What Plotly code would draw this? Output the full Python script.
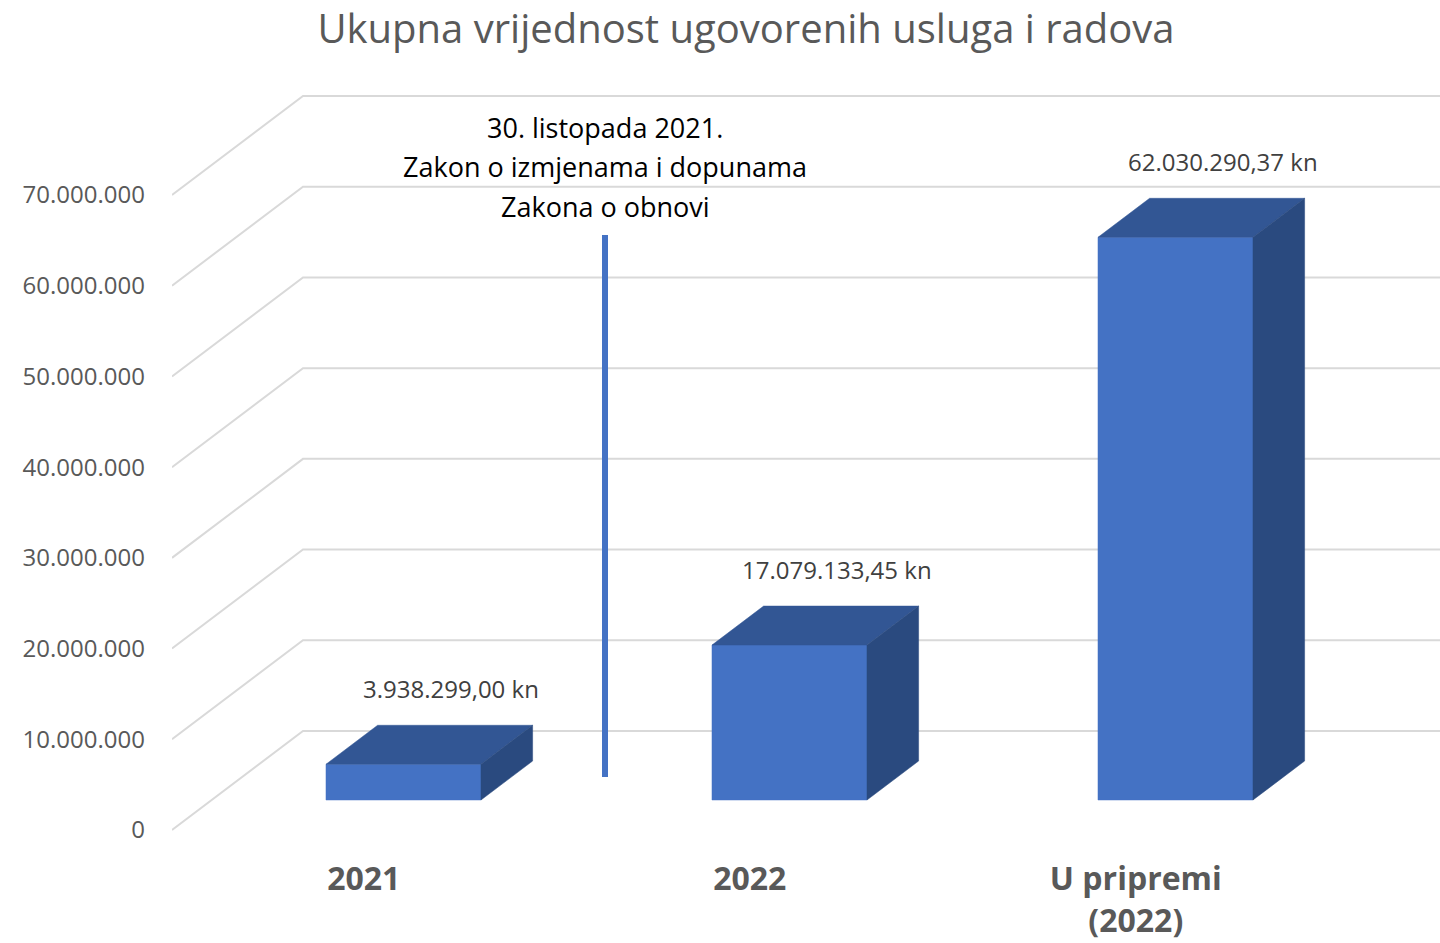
import plotly.graph_objects as go

# ---- data ----
categories = ["2021", "2022", "U pripremi<br>(2022)"]
values = [3938299.00, 17079133.45, 62030290.37]
value_labels = ["3.938.299,00 kn", "17.079.133,45 kn", "62.030.290,37 kn"]
tick_values = [0, 10e6, 20e6, 30e6, 40e6, 50e6, 60e6, 70e6]
tick_labels = ["0", "10.000.000", "20.000.000", "30.000.000", "40.000.000",
               "50.000.000", "60.000.000", "70.000.000"]
note_lines = ["30. listopada 2021.", "Zakon o izmjenama i dopunama", "Zakona o obnovi"]
title_text = "Ukupna vrijednost ugovorenih usluga i radova"

# ---- geometry / style ----
W, H = 1440, 943
ML, MB = 172, 88
plot_h = H - MB
scale = 635 / 70e6          # px per unit value
zero_px = 830               # pixel row of front zero
x_unit = 386.0              # px per category
x0_px = 363.8               # pixel of category 0
XMIN = (ML - x0_px) / x_unit
XMAX = (W - x0_px) / x_unit
YMAX = zero_px / scale
YMIN = -(plot_h - zero_px) / scale

DX = 131 / x_unit           # depth offset in x units (full depth)
DV = 99 / scale             # depth offset in value units (full depth)
half_w = 77.5 / x_unit
d_front, d_back = 0.303, 0.697

FRONT = "#4472C4"
TOP = "#325694"
SIDE = "#2A4A7F"
GRID = "#D9D9D9"


def proj(x, v, d):
    return x + d * DX, v + d * DV


fig = go.Figure()

# perspective gridlines (floor-to-wall)
for t in tick_values:
    pts = [proj(XMIN, t, 0), proj(XMIN, t, 1), proj(XMAX + 1, t, 1)]
    fig.add_trace(go.Scatter(x=[p[0] for p in pts], y=[p[1] for p in pts], mode="lines",
                             line=dict(color=GRID, width=2), hoverinfo="skip", showlegend=False))

# 3D-looking bars
for i, (cat, v) in enumerate(zip(categories, values)):
    c = i
    faces = [
        ([(c - half_w, 0, d_front), (c + half_w, 0, d_front), (c + half_w, v, d_front), (c - half_w, v, d_front)], FRONT),
        ([(c - half_w, v, d_front), (c + half_w, v, d_front), (c + half_w, v, d_back), (c - half_w, v, d_back)], TOP),
        ([(c + half_w, 0, d_front), (c + half_w, 0, d_back), (c + half_w, v, d_back), (c + half_w, v, d_front)], SIDE),
    ]
    for corners, col in faces:
        pts = [proj(*p) for p in corners] + [proj(*corners[0])]
        fig.add_trace(go.Scatter(x=[p[0] for p in pts], y=[p[1] for p in pts], mode="lines",
                                 fill="toself", fillcolor=col, line=dict(color=col, width=0.5),
                                 hoverinfo="skip", showlegend=False))
    lx, ly = proj(c, v, d_back)
    fig.add_annotation(x=lx, y=ly, xref="x", yref="y", text=value_labels[i], showarrow=False,
                       yanchor="bottom", yshift=18, xshift=-4,
                       font=dict(family="Open Sans", size=24, color="#404040"))

# vertical marker line (legislation date)
marker_x = (605 - x0_px) / x_unit
fig.add_shape(type="line", xref="x", yref="y", x0=marker_x, x1=marker_x,
              y0=(zero_px - 777) / scale, y1=(zero_px - 235) / scale,
              line=dict(color=FRONT, width=6))

for k, line in enumerate(note_lines):
    fig.add_annotation(x=(605 - ML) / (W - ML), y=1 - (128 + 39 * k) / plot_h, xref="paper", yref="paper",
                       text=line, showarrow=False, xanchor="center", yanchor="middle",
                       font=dict(family="Open Sans", size=27, color="#000000"))

fig.update_layout(
    width=W, height=H,
    margin=dict(l=ML, r=0, t=0, b=MB),
    paper_bgcolor="white", plot_bgcolor="white",
    title=dict(text=title_text, x=746 / W, xref="container", xanchor="center",
               y=1 - 29 / H, yref="container", yanchor="middle",
               font=dict(family="Open Sans", size=40, color="#595959")),
    xaxis=dict(range=[XMIN, XMAX], showgrid=False, zeroline=False, showline=False,
               tickvals=[0, 1, 2], ticktext=categories, ticks="", ticklabelstandoff=2,
               tickfont=dict(family="Open Sans", size=32, color="#595959", weight="bold")),
    yaxis=dict(range=[YMIN, YMAX], showgrid=False, zeroline=False, showline=False,
               tickvals=tick_values, ticktext=tick_labels, ticks="", ticklabelstandoff=26,
               tickfont=dict(family="Open Sans", size=24, color="#595959")),
    showlegend=False,
)

fig.write_html("out.html", config={"displayModeBar": False},
               post_script="document.body.style.margin='0';")
